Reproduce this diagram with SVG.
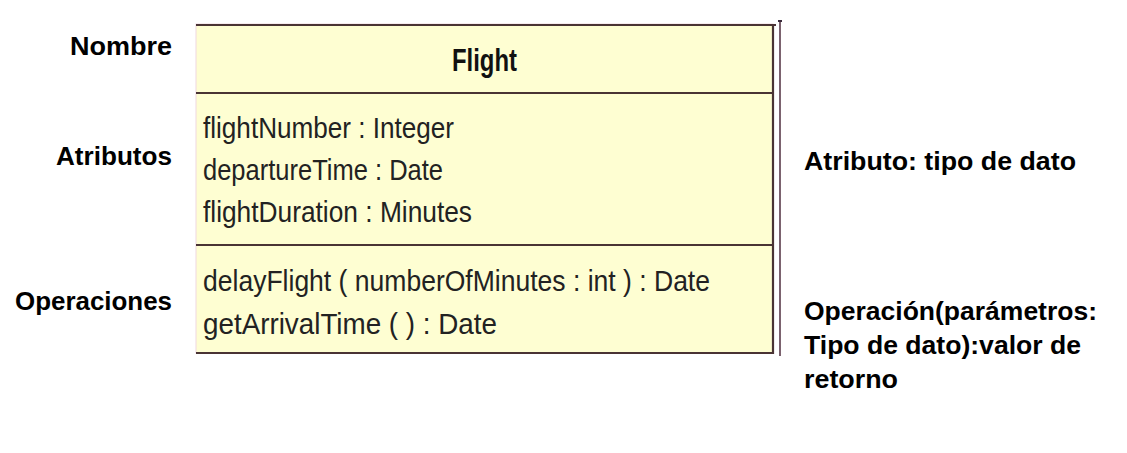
<svg xmlns="http://www.w3.org/2000/svg" width="1127" height="453" viewBox="0 0 1127 453">
<style>
.lbl{font-family:"Liberation Sans",Arial,sans-serif;font-weight:bold;font-size:25px;fill:#000}
.mem{font-family:"Liberation Sans",Arial,sans-serif;font-size:29px;fill:#222}
.ttl{font-family:"Liberation Sans",Arial,sans-serif;font-weight:bold;font-size:32px;fill:#111}
.ln{stroke:#4a3434;stroke-width:2.2;fill:none}
</style>
<rect width="1127" height="453" fill="#fff"/>
<g id="labels-left">
<text class="lbl" x="172" y="55" text-anchor="end" textLength="102" lengthAdjust="spacingAndGlyphs">Nombre</text>
<text class="lbl" x="172" y="165" text-anchor="end" textLength="116" lengthAdjust="spacingAndGlyphs">Atributos</text>
<text class="lbl" x="172" y="310" text-anchor="end" textLength="157" lengthAdjust="spacingAndGlyphs">Operaciones</text>
</g>
<g id="class-flight">
<rect x="196" y="24" width="577" height="329" fill="#fefed2" stroke="#f0d8e0" stroke-width="1"/>
<line class="ln" x1="196" y1="25" x2="776" y2="25"/>
<line class="ln" x1="196" y1="93" x2="773" y2="93"/>
<line class="ln" x1="196" y1="245" x2="773" y2="245"/>
<line class="ln" x1="196" y1="353" x2="773" y2="353"/>
<line class="ln" x1="773" y1="24" x2="773" y2="354"/>
<line x1="780" y1="20" x2="780" y2="356" stroke="#5a3a4a" stroke-width="1.6"/>
<line x1="778" y1="21" x2="782" y2="21" stroke="#3a2a3a" stroke-width="2"/>
<text class="ttl" x="452" y="71" textLength="65" lengthAdjust="spacingAndGlyphs">Flight</text>
<text class="mem" x="203" y="138" textLength="251" lengthAdjust="spacingAndGlyphs">flightNumber : Integer</text>
<text class="mem" x="203" y="180" textLength="240" lengthAdjust="spacingAndGlyphs">departureTime : Date</text>
<text class="mem" x="203" y="222" textLength="269" lengthAdjust="spacingAndGlyphs">flightDuration : Minutes</text>
<text class="mem" x="203" y="291" textLength="507" lengthAdjust="spacingAndGlyphs">delayFlight ( numberOfMinutes : int ) : Date</text>
<text class="mem" x="203" y="334" textLength="294" lengthAdjust="spacingAndGlyphs">getArrivalTime (  ) : Date</text>
</g>
<g id="labels-right">
<text class="lbl" x="804" y="170" textLength="272" lengthAdjust="spacingAndGlyphs">Atributo: tipo de dato</text>
<text class="lbl" x="804" y="320" textLength="293" lengthAdjust="spacingAndGlyphs">Operación(parámetros:</text>
<text class="lbl" x="804" y="354" textLength="277" lengthAdjust="spacingAndGlyphs">Tipo de dato):valor de</text>
<text class="lbl" x="804" y="388" textLength="94" lengthAdjust="spacingAndGlyphs">retorno</text>
</g>
<g id="connectors"></g>
</svg>
